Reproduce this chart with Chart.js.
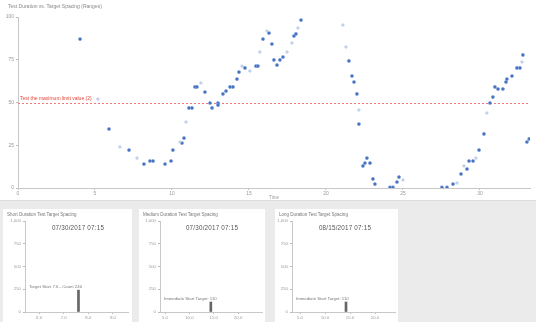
<!DOCTYPE html>
<html>
<head>
<meta charset="utf-8">
<script src="https://cdn.jsdelivr.net/npm/chart.js@4.4.0/dist/chart.umd.min.js"></script>
<style>
  html, body { margin: 0; padding: 0; width: 536px; height: 322px; overflow: hidden; background: #ebebeb; font-family: "Liberation Sans", Arial, sans-serif; }
  #top { position: absolute; left: 0; top: 0; width: 536px; height: 200px; background: #fff; border-bottom: 1px solid #dcdcdc; }
  #top-title { position: absolute; left: 8px; top: 3px; font-size: 5px; color: #888; white-space: nowrap; }
  .panel { position: absolute; top: 209px; height: 113px; background: #fff; }
  .ptitle { position: absolute; left: 4px; top: 3px; font-size: 4.5px; color: #777; white-space: nowrap; }
  .stamp { position: absolute; top: 15px; font-size: 6.3px; color: #555; white-space: nowrap; transform: translateX(-50%); letter-spacing: 0.2px; }
  canvas { position: absolute; left: 0; top: 0; }
</style>
</head>
<body>
<div id="top">
  <canvas id="main" width="536" height="200"></canvas>
  <div id="top-title">Test Duration vs. Target Spacing (Ranges)</div>
</div>

<div class="panel" id="p1" style="left:3px;width:129px;">
  <canvas id="c1" width="129" height="113"></canvas>
  <div class="ptitle">Short Duration Test Target Spacing</div>
  <div class="stamp" style="left:75px;">07/30/2017 07:15</div>
</div>
<div class="panel" id="p2" style="left:139px;width:126px;">
  <canvas id="c2" width="126" height="113"></canvas>
  <div class="ptitle">Medium Duration Test Target Spacing</div>
  <div class="stamp" style="left:73px;">07/30/2017 07:15</div>
</div>
<div class="panel" id="p3" style="left:275px;width:123px;">
  <canvas id="c3" width="123" height="113"></canvas>
  <div class="ptitle">Long Duration Test Target Spacing</div>
  <div class="stamp" style="left:70px;">08/15/2017 07:15</div>
</div>

<script>
// ---- main scatter: elapsed time vs. duration ----
const mainXTicks = [0, 5, 10, 15, 20, 25, 30];
const mainYTicks = [0, 25, 50, 75, 100];
const LIMIT = 50;
const LIMIT_LABEL = "Test the maximum limit value (2)";

const measuredX = [4.03, 5.91, 7.21, 8.18, 8.57, 8.77, 9.55, 9.94, 10.06, 10.65, 10.78, 11.10, 11.30, 11.49, 11.62,
  12.14, 12.47, 12.60, 12.99, 12.99, 13.31, 13.51, 13.77, 13.96, 14.22, 14.35, 14.74, 15.45, 15.58, 15.91,
  16.30, 16.49, 16.62, 16.82, 17.01, 17.21, 17.92, 18.05, 18.38, 21.49, 21.69, 21.82, 22.01, 22.14, 22.40,
  22.53, 22.66, 22.86, 23.05, 23.18, 24.16, 24.35, 24.61, 24.74, 27.53, 27.86, 28.25, 28.77, 29.16, 29.29,
  29.55, 29.94, 30.26, 30.65, 30.84, 30.97, 31.17, 31.49, 31.69, 31.75, 32.08, 32.40, 32.60, 32.79, 33.05, 33.20];
const measuredY = [87.1, 34.5, 22.2, 14.0, 15.8, 15.8, 14.0, 15.8, 22.2, 26.3, 29.2, 46.8, 46.8, 59.1, 59.1,
  56.1, 49.7, 46.8, 49.7, 48.5, 55.0, 56.7, 59.1, 59.1, 63.7, 67.8, 70.2, 71.3, 71.3, 87.1,
  90.6, 84.2, 74.9, 71.9, 74.9, 76.6, 88.9, 90.1, 98.2, 74.3, 65.5, 62.0, 55.0, 37.4, 12.9,
  14.6, 17.5, 14.6, 5.3, 2.3, 0.4, 0.4, 3.5, 6.4, 0.4, 0.4, 2.3, 8.2, 11.1, 15.8,
  15.8, 22.2, 31.6, 49.7, 53.2, 59.1, 57.9, 57.9, 62.0, 63.7, 65.5, 70.2, 70.2, 77.8, 26.9, 28.7];

const pendingX = [5.19, 6.62, 7.73, 10.52, 10.91, 11.88, 14.55, 15.06, 15.71, 16.17, 17.47, 17.79, 18.18,
  21.10, 21.30, 22.14, 25.00, 28.51, 28.96, 29.74, 30.45, 32.73];
const pendingY = [52.0, 24.0, 17.5, 26.9, 38.6, 61.4, 71.3, 68.4, 79.5, 91.8, 79.5, 84.8, 93.6,
  95.3, 82.5, 45.6, 4.7, 2.9, 12.9, 17.5, 43.9, 73.7];

// ---- small histograms ----
const shortTicks = [6, 7, 8, 9];
const shortX = [7.6];
const shortCount = [240];
const mediumTicks = [5, 10, 15, 20];
const mediumX = [14.4];
const mediumCount = [110];
const longTicks = [5, 10, 15, 20];
const longX = [14.2];
const longCount = [110];
const countTicks = [0, 250, 500, 750, 1000];

const pts = (xs, ys) => xs.map((x, i) => ({ x, y: ys[i] }));
const FONT = "Liberation Sans";

const limitLine = {
  id: 'limitLine',
  beforeDatasetsDraw(chart) {
    const { ctx, chartArea: a, scales: { y } } = chart;
    const py = Math.round(y.getPixelForValue(LIMIT)) + 0.5;
    ctx.save();
    ctx.strokeStyle = '#f07878';
    ctx.lineWidth = 1;
    ctx.setLineDash([2, 2]);
    ctx.beginPath();
    ctx.moveTo(a.left, py);
    ctx.lineTo(a.right, py);
    ctx.stroke();
    ctx.fillStyle = '#e5453a';
    ctx.font = '5px ' + FONT;
    ctx.textBaseline = 'bottom';
    ctx.fillText(LIMIT_LABEL, a.left + 2, py - 2);
    ctx.restore();
  }
};

new Chart(document.getElementById('main'), {
  type: 'scatter',
  data: {
    datasets: [
      { data: pts(pendingX, pendingY), pointRadius: 1.3, pointBackgroundColor: '#c9d6ef', pointBorderColor: '#b5c6e8', pointBorderWidth: 0.6 },
      { data: pts(measuredX, measuredY), pointRadius: 1.6, pointBackgroundColor: '#4470c2', pointBorderColor: '#7d9dd9', pointBorderWidth: 0.6 }
    ]
  },
  options: {
    responsive: false, animation: false, events: [],
    layout: { padding: { left: 0, right: 6, top: 17, bottom: 0 } },
    plugins: { legend: { display: false }, tooltip: { enabled: false } },
    scales: {
      x: {
        type: 'linear', min: 0, max: 33.25,
        afterFit: s => { s.height = 12; },
        afterBuildTicks: s => { s.ticks = mainXTicks.map(v => ({ value: v })); },
        grid: { drawOnChartArea: false, drawTicks: true, tickLength: 2, color: '#bbb' },
        border: { color: '#c8c8c8' },
        ticks: { font: { size: 5, family: FONT }, color: '#999', padding: 1, maxRotation: 0 },
        title: { display: true, text: 'Time', font: { size: 4.5, family: FONT }, color: '#999', padding: 0 }
      },
      y: {
        min: 0, max: 100,
        afterFit: s => { s.width = 18; },
        afterBuildTicks: s => { s.ticks = mainYTicks.map(v => ({ value: v })); },
        grid: { drawOnChartArea: false, drawTicks: true, tickLength: 2, color: '#bbb' },
        border: { color: '#c8c8c8' },
        ticks: { font: { size: 5, family: FONT }, color: '#999', padding: 2 }
      }
    }
  },
  plugins: [limitLine]
});

// label drawn at the bar's height, starting just inside the y axis
const barLabel = {
  id: 'barLabel',
  afterDatasetsDraw(chart, args, opts) {
    const { ctx, chartArea: a, scales: { y } } = chart;
    const v = chart.data.datasets[0].data[0].y;
    ctx.save();
    ctx.fillStyle = '#777';
    ctx.font = '4.3px ' + FONT;
    ctx.textBaseline = 'bottom';
    ctx.fillText(opts.text, a.left + 4, y.getPixelForValue(v) - 1.5);
    ctx.restore();
  }
};

function histogram(id, xs, ys, xmin, xmax, xticks, fmt, axisW, rightPad, text) {
  new Chart(document.getElementById(id), {
    type: 'bar',
    data: { datasets: [{ data: pts(xs, ys), backgroundColor: '#666', barThickness: 2 }] },
    options: {
      responsive: false, animation: false, events: [],
      layout: { padding: { left: 0, right: rightPad, top: 12, bottom: 0 } },
      plugins: { legend: { display: false }, tooltip: { enabled: false }, barLabel: { text } },
      scales: {
        x: {
          type: 'linear', min: xmin, max: xmax, offset: false,
          afterFit: s => { s.height = 10; },
          afterBuildTicks: s => { s.ticks = xticks.map(v => ({ value: v })); },
          grid: { drawOnChartArea: false, drawTicks: true, tickLength: 2, color: '#bbb', offset: false },
          border: { color: '#c8c8c8' },
          ticks: { font: { size: 4.3, family: FONT }, color: '#999', padding: 1, maxRotation: 0, callback: fmt }
        },
        y: {
          min: 0, max: 1000,
          afterFit: s => { s.width = axisW; },
          afterBuildTicks: s => { s.ticks = countTicks.map(v => ({ value: v })); },
          grid: { drawOnChartArea: false, drawTicks: true, tickLength: 2, color: '#bbb' },
          border: { color: '#c8c8c8' },
          ticks: { font: { size: 4.3, family: FONT }, color: '#999', padding: 2, callback: v => v.toLocaleString('en-US') }
        }
      }
    },
    plugins: [barLabel]
  });
}

histogram('c1', shortX, shortCount, 5.43, 9.61, shortTicks, v => v.toFixed(1), 22, 4,
  'Target Start 7.6 - Count 240');
histogram('c2', mediumX, mediumCount, 3.97, 24.9, mediumTicks, v => v.toFixed(1), 21, 3,
  'Immediate Start Target: 110');
histogram('c3', longX, longCount, 3.4, 24, longTicks, v => v.toFixed(1), 17, 3,
  'Immediate Start Target: 110');
</script>
</body>
</html>
